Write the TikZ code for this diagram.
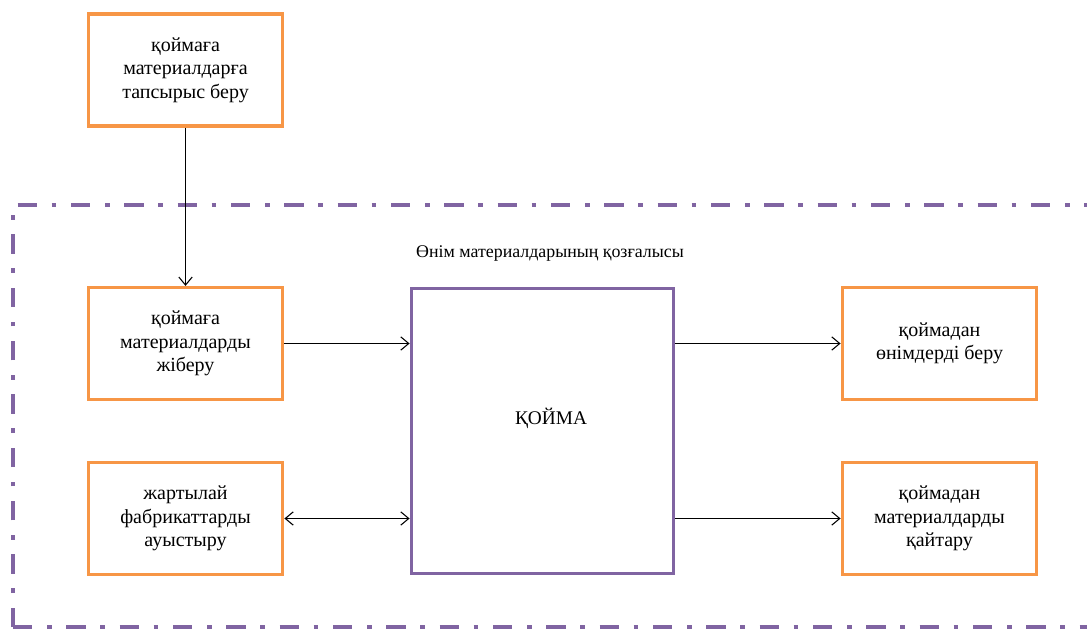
\documentclass[tikz,border=0pt]{standalone}
\usepackage{fontspec}
\setmainfont{Liberation Serif}
\usetikzlibrary{arrows.meta}
\definecolor{boxorange}{HTML}{F79646}
\definecolor{framepurple}{HTML}{8064A2}
\begin{document}
\begin{tikzpicture}[x=0.75pt,y=-0.75pt,
  obox/.style={draw=boxorange,line width=2.4pt,minimum width=146pt,minimum height=84pt,
    align=center,font=\fontsize{15}{17.5}\selectfont,inner sep=0pt},
  cbox/.style={draw=framepurple,line width=2.4pt,minimum width=197pt,minimum height=214pt,inner sep=0pt},
  conn/.style={line width=0.8pt,-{Straight Barb[length=6pt,width=10pt]}},
  bconn/.style={line width=0.8pt,{Straight Barb[length=6pt,width=10pt]}-{Straight Barb[length=6pt,width=10pt]}},
  frame/.style={draw=framepurple,line width=3pt,dash pattern=on 14.5pt off 11pt on 3.5pt off 11pt}]
\useasboundingbox (0,0) rectangle (1087,630);
% enclosing dash-dot frame, running off the right edge
\begin{scope}
  \clip (0,0) rectangle (1087,630);
  \draw[frame] (13,627) -- (13,205) -- (1120,205);
  \draw[frame] (13,627) -- (1120,627);
\end{scope}
% nodes
\node[obox] (order) at (185.5,70) {қоймаға\\материалдарға\\тапсырыс беру};
\node[obox] (send) at (185.5,343.5) {қоймаға\\материалдарды\\жіберу};
\node[obox] (semi) at (185.5,518.5) {жартылай\\фабрикаттарды\\ауыстыру};
\node[cbox] (store) at (542.5,431) {};
\node[font=\fontsize{14.5}{17}\selectfont] (storelbl) at (551,418) {ҚОЙМА};
\node[obox] (issue) at (939.5,343.5) {қоймадан\\өнімдерді беру};
\node[obox] (ret) at (939.5,518.5) {қоймадан\\материалдарды\\қайтару};
\node[font=\fontsize{13.4}{16}\selectfont] (title) at (550,253) {Өнім материалдарының қозғалысы};
% connectors
\draw[conn] (order.south) -- (send.north);
\draw[conn] (send.east) -- (store.west |- send.east);
\draw[bconn] (semi.east) -- (store.west |- semi.east);
\draw[conn] (store.east |- issue.west) -- (issue.west);
\draw[conn] (store.east |- ret.west) -- (ret.west);
\end{tikzpicture}
\end{document}
